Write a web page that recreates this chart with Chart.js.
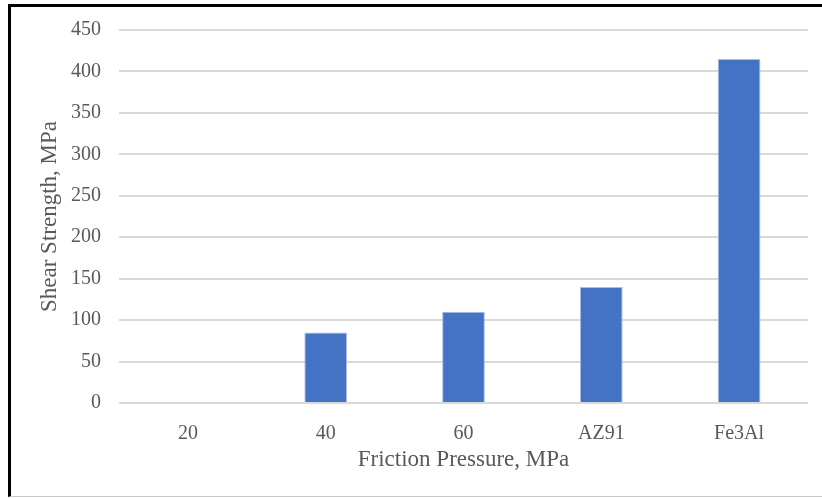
<!DOCTYPE html>
<html>
<head>
<meta charset="utf-8">
<script src="https://cdn.jsdelivr.net/npm/chart.js@4"></script>
<style>
  body { margin: 0; background: #fff; }
  .wrap { position: relative; width: 822px; height: 499px; }
  #myChart { position: absolute; left: 0; top: 0; }
  .frame { position: absolute; left: 8px; top: 4px; width: 820px; height: 489px;
           border-left: 3px solid #000; border-top: 3px solid #000; border-bottom: 1px solid #c8c8c8;
           pointer-events: none; }
</style>
</head>
<body>
<div class="wrap">
  <canvas id="myChart" width="822" height="499"></canvas>
  <div class="frame"></div>
</div>
<script>
const categories = ["20", "40", "60", "AZ91", "Fe3Al"];
const shearStrength = [0, 85, 110, 140, 415];
const yTicks = [0, 50, 100, 150, 200, 250, 300, 350, 400, 450];

const tickColor = "#595959";
const serif = "'Liberation Serif', 'Times New Roman', serif";

new Chart("myChart", {
  type: "bar",
  data: {
    labels: categories,
    datasets: [{
      data: shearStrength,
      backgroundColor: "#4472C4",
      borderColor: "#a9bde3",
      borderWidth: 1,
      categoryPercentage: 1,
      barPercentage: 0.31
    }]
  },
  options: {
    responsive: false,
    animation: false,
    layout: { padding: { left: 30, right: 14, top: 30, bottom: 20 } },
    plugins: {
      legend: { display: false },
      tooltip: { enabled: false }
    },
    scales: {
      x: {
        grid: { display: false, drawTicks: false },
        border: { display: false },
        ticks: { color: tickColor, font: { family: serif, size: 20 }, padding: 19, maxRotation: 0 },
        title: {
          display: true,
          text: "Friction Pressure, MPa",
          color: tickColor,
          font: { family: serif, size: 23 },
          padding: { top: 0, bottom: 5 }
        },
        afterFit: (scale) => { scale.height = 499 - 20 - 403; }
      },
      y: {
        min: 0,
        max: 450,
        afterBuildTicks: (scale) => { scale.ticks = yTicks.map(v => ({ value: v })); },
        grid: { color: "#d9d9d9", lineWidth: 2, drawTicks: false },
        border: { display: false },
        ticks: { color: tickColor, font: { family: serif, size: 20 }, padding: 18 },
        title: {
          display: true,
          text: "Shear Strength, MPa",
          color: tickColor,
          font: { family: serif, size: 23 },
          padding: { top: 6, bottom: 0 }
        },
        afterFit: (scale) => { scale.width = 119 - 30; }
      }
    }
  }
});
</script>
</body>
</html>
